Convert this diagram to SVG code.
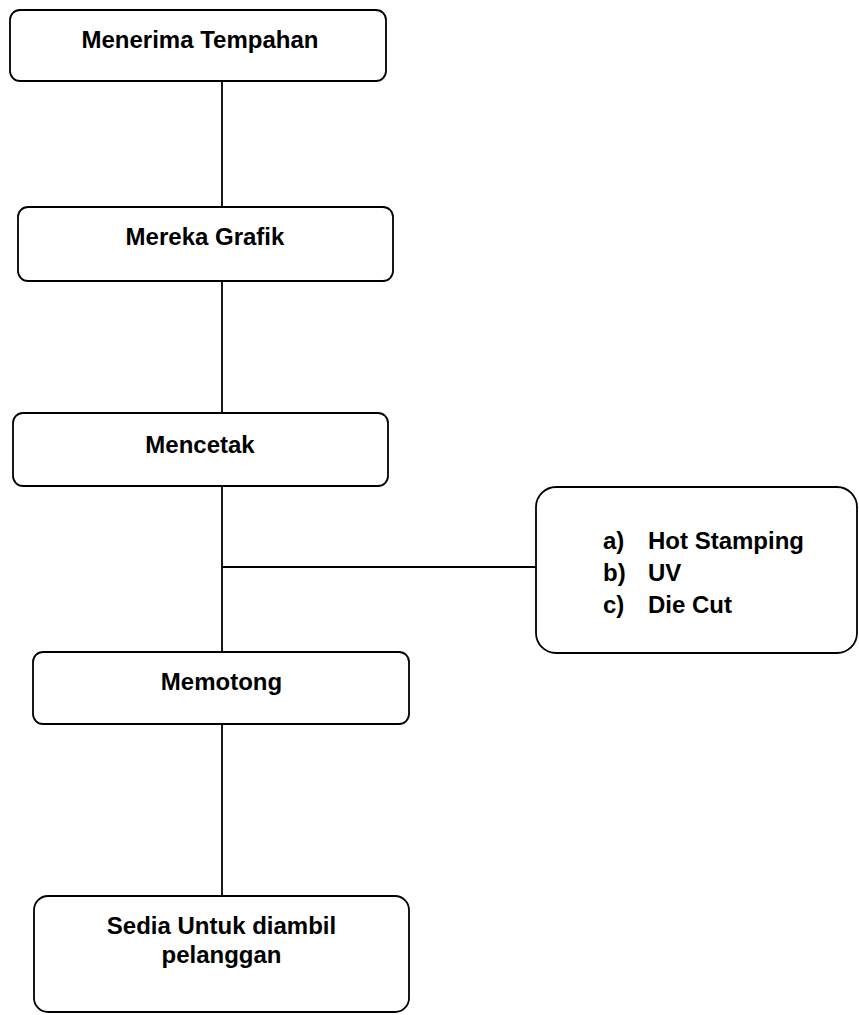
<svg xmlns="http://www.w3.org/2000/svg" width="859" height="1015" viewBox="0 0 859 1015">
<style>
.box{fill:#fff;stroke:#000;stroke-width:1.8}
.lbl{font-family:"Liberation Sans",Arial,sans-serif;font-weight:bold;font-size:24px;fill:#000}
.c{text-anchor:middle}
.conn{stroke:#000;stroke-width:1.8;fill:none}
</style>
<rect width="859" height="1015" fill="#fff"/>
<g id="connectors">
<line class="conn" x1="222" y1="81" x2="222" y2="207"/>
<line class="conn" x1="222" y1="281" x2="222" y2="413"/>
<line class="conn" x1="222" y1="486" x2="222" y2="652"/>
<line class="conn" x1="222" y1="567" x2="536" y2="567"/>
<line class="conn" x1="222" y1="724" x2="222" y2="896"/>
</g>
<g id="node-menerima">
<rect class="box" x="10" y="10" width="376" height="71" rx="10"/>
<text class="lbl c" x="200" y="48">Menerima Tempahan</text>
</g>
<g id="node-mereka">
<rect class="box" x="18" y="207" width="375" height="74" rx="10"/>
<text class="lbl c" x="205" y="245">Mereka Grafik</text>
</g>
<g id="node-mencetak">
<rect class="box" x="13" y="413" width="375" height="73" rx="10"/>
<text class="lbl c" x="200" y="453">Mencetak</text>
</g>
<g id="node-finishing">
<rect class="box" x="536" y="487" width="321" height="166" rx="20"/>
<text class="lbl" x="603" y="549">a)</text>
<text class="lbl" x="648" y="549">Hot Stamping</text>
<text class="lbl" x="603" y="581">b)</text>
<text class="lbl" x="648" y="581">UV</text>
<text class="lbl" x="603" y="613">c)</text>
<text class="lbl" x="648" y="613">Die Cut</text>
</g>
<g id="node-memotong">
<rect class="box" x="33" y="652" width="376" height="72" rx="10"/>
<text class="lbl c" x="221.5" y="690">Memotong</text>
</g>
<g id="node-sedia">
<rect class="box" x="34" y="896" width="375" height="116" rx="14"/>
<text class="lbl c" x="221.5" y="934">Sedia Untuk diambil</text>
<text class="lbl c" x="221.5" y="963">pelanggan</text>
</g>
</svg>
